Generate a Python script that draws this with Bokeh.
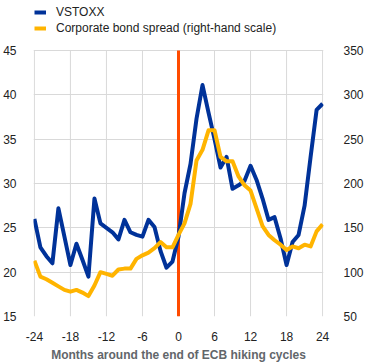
from bokeh.plotting import figure
from bokeh.models import (LinearAxis, Range1d, FixedTicker, Legend, LegendItem,
                          ColumnDataSource, CustomJSTickFormatter)
from bokeh.embed import file_html
from bokeh.resources import INLINE

months = list(range(-24, 25))
vstoxx = [26.0, 22.8, 21.8, 21.0, 27.2, 24.0, 20.8, 23.2, 21.4, 19.5,
          28.3, 25.5, 25.0, 24.5, 23.7, 25.9, 24.5, 24.2, 24.0, 25.9,
          25.1, 22.4, 20.5, 21.2, 24.0, 28.9, 32.2, 37.3, 41.1, 38.0,
          35.0, 31.8, 33.0, 29.4, 29.8, 30.3, 32.0, 30.4, 28.3, 25.9,
          26.2, 23.8, 20.8, 23.4, 24.2, 27.5, 33.0, 38.3, 39.0]
spread = [113, 95, 92, 88, 84, 80, 78, 80, 77, 73,
          85, 100, 98, 96, 103, 104, 104, 115, 119, 122,
          127, 134, 128, 128, 142, 155, 177, 226, 238, 260,
          260, 230, 225, 225, 208, 198, 192, 172, 152, 142,
          136, 131, 125, 129, 127, 131, 129, 146, 154]
x_ticks = [-24, -18, -12, -6, 0, 6, 12, 18, 24]
left_ticks = [15, 20, 25, 30, 35, 40, 45]
right_ticks = [50, 100, 150, 200, 250, 300, 350]
series_names = ["VSTOXX", "Corporate bond spread (right-hand scale)"]
x_title = "Months around the end of ECB hiking cycles"
event_month = 0

BLUE = "#003299"
YELLOW = "#ffb400"
RED = "#ff4b00"
GRID = "#d9d9d9"
FONT = "Liberation Sans"

# frame spans from the top of the figure down to the 15-line;
# the headroom above 45 holds the legend
y_lo, y_hi = left_ticks[0], left_ticks[-1]
head = 50.0 / (266.0 / (y_hi - y_lo))          # headroom in left-axis units
r_lo, r_hi = right_ticks[0], right_ticks[-1]
r_per_l = (r_hi - r_lo) / (y_hi - y_lo)

p = figure(width=372, height=364, output_backend="svg", toolbar_location=None,
           x_range=Range1d(-24.15, 24.15), y_range=Range1d(y_lo, y_hi + head),
           min_border_left=27, min_border_right=49, min_border_top=0,
           min_border_bottom=48)
p.outline_line_color = None
p.background_fill_color = "white"
p.border_fill_color = "white"
p.extra_y_ranges = {"right": Range1d(r_lo, r_hi + head * r_per_l)}

# vertical grid lines limited to the 15..45 band
p.segment(x0=x_ticks, y0=[y_lo] * len(x_ticks), x1=x_ticks, y1=[y_hi] * len(x_ticks),
          line_color=GRID, line_width=1)
# end-of-hiking-cycle marker
p.segment(x0=[event_month], y0=[y_lo], x1=[event_month], y1=[y_hi],
          line_color=RED, line_width=3)

src = ColumnDataSource(dict(m=months, v=vstoxx, s=spread))
r1 = p.line("m", "v", source=src, line_color=BLUE, line_width=4, line_join="round")
r2 = p.line("m", "s", source=src, y_range_name="right", line_color=YELLOW,
            line_width=4, line_join="round")

fmt = CustomJSTickFormatter(code="return String(tick);")

def style_axis(ax):
    ax.axis_line_color = None
    ax.major_tick_line_color = None
    ax.minor_tick_line_color = None
    ax.major_label_text_font = FONT
    ax.major_label_text_font_size = "12px"
    ax.major_label_text_color = "#222222"
    ax.formatter = fmt

p.xaxis.ticker = FixedTicker(ticks=x_ticks)
p.yaxis.ticker = FixedTicker(ticks=left_ticks)
style_axis(p.xaxis[0])
style_axis(p.yaxis[0])
p.yaxis.major_label_standoff = 11
p.xaxis.major_label_standoff = 9
p.xaxis.axis_label = x_title
p.xaxis.axis_label_text_font = FONT
p.xaxis.axis_label_text_font_size = "12px"
p.xaxis.axis_label_text_font_style = "bold"
p.xaxis.axis_label_text_color = "#62666a"
p.xaxis.axis_label_standoff = 4

ry = LinearAxis(y_range_name="right", ticker=FixedTicker(ticks=right_ticks))
style_axis(ry)
ry.major_label_standoff = 14
p.add_layout(ry, "right")

p.xgrid.grid_line_color = None
p.ygrid.ticker = FixedTicker(ticks=left_ticks)
p.ygrid.grid_line_color = GRID
p.ygrid.grid_line_width = 1

legend = Legend(items=[LegendItem(label=series_names[0], renderers=[r1]),
                       LegendItem(label=series_names[1], renderers=[r2])],
                location=(1, 280), orientation="vertical")
legend.margin = 0
legend.padding = 0
legend.spacing = 0
legend.glyph_width = 12
legend.glyph_height = 16
legend.label_height = 16
legend.label_standoff = 10
legend.label_text_font = FONT
legend.label_text_font_size = "12px"
legend.label_text_color = "#222222"
legend.border_line_color = None
legend.background_fill_alpha = 0
p.add_layout(legend, "center")

open("out.html", "w").write(file_html(p, INLINE))
